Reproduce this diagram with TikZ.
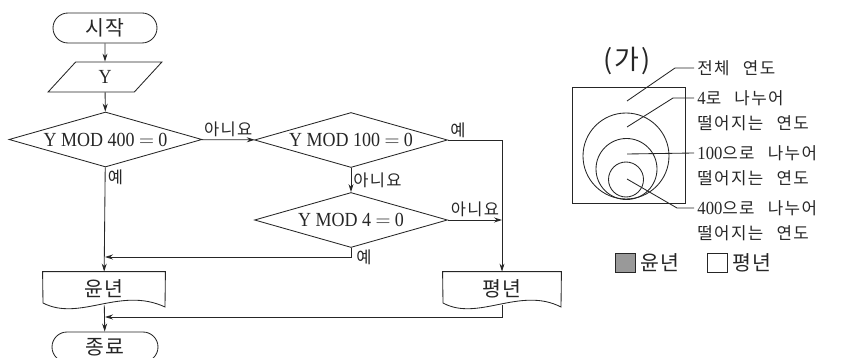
\documentclass[tikz,border=0pt]{standalone}
\usepackage{fontspec}
\setmainfont[FakeStretch=0.9]{Liberation Serif}
\newfontfamily\kr[LetterSpace=8,WordSpace=2.6]{Noto Sans CJK KR}
\usetikzlibrary{shapes.geometric,shapes.misc,arrows.meta,positioning}
\newcommand{\boxkr}{\kr\fontsize{20.5}{24}\selectfont}
\newcommand{\boxlat}{\fontsize{20}{24}\selectfont}
\newcommand{\lblkr}{\kr\fontsize{16.5}{19}\selectfont}
\newcommand{\notekr}{\kr\fontsize{16.8}{19}\selectfont}
\newcommand{\titlekr}{\kr\fontsize{27}{29}\selectfont}
\newcommand{\dg}[1]{{\rmfamily\fontsize{18.5}{20}\selectfont #1}}
\tikzstyle{termbox} = [draw, rounded rectangle, minimum width=104pt,
    minimum height=30pt, inner sep=0pt, font=\boxkr]
\tikzstyle{iobox} = [draw, trapezium, trapezium left angle=65,
    trapezium right angle=115, trapezium stretches=true,
    minimum width=114pt, minimum height=30pt, inner sep=0pt, font=\boxlat]
\tikzstyle{decbox} = [draw, diamond, aspect=3.5, inner sep=0pt,
    minimum width=193pt, minimum height=55pt, font=\boxlat]
\tikzstyle{docbox} = [minimum width=122pt, minimum height=33pt,
    inner sep=0pt, font=\boxkr]
\tikzstyle{lbl} = [font=\lblkr, inner sep=2pt]
\tikzstyle{note} = [font=\notekr, anchor=west, inner sep=3pt]
\tikzstyle{keybox} = [draw, minimum width=20pt, minimum height=19pt, inner sep=0pt]
\tikzstyle{arr} = [-{Stealth[length=8pt,width=5pt]}]

\begin{document}
\begin{tikzpicture}[x=1pt, y=-1pt, line width=0.85pt, color=black!85]
    \useasboundingbox (0,0) rectangle (848,358);
    \node [termbox] (start) at (105,28) {시작};
    \node [iobox] (input) at (105,77) {Y};
    \node [decbox] (d1) at (105.5,139.5) {Y MOD 400 $=$ 0};
    \node [decbox] (d2) at (351,140) {Y MOD 100 $=$ 0};
    \node [decbox] (d3) at (351,220) {Y MOD 4 $=$ 0};
    \node [docbox] (yun) at (104,288.5) {윤년};
    \node [docbox, minimum width=118pt] (pyeong) at (502,288.5) {평년};
    \node [termbox, minimum width=106pt] (end) at (105,347) {종료};
    \coordinate (j1) at (105,257);
    \coordinate (j2) at (105,317);
    \draw (yun.north west) -- (yun.north east) -- (165,307)
        .. controls (120,286) and (80,322) .. (43,303) -- cycle;
    \draw (pyeong.north west) -- (pyeong.north east) -- (561,307)
        .. controls (520,286) and (478,322) .. (443,303) -- cycle;

    \draw [arr] (start) -- (input);
    \draw [arr] (input) -- (d1);
    \draw [arr] (d1) -- node [lbl, above=1pt] {아니요} (d2);
    \draw [arr] (d2) -- node [lbl, right] {아니요} (d3);
    \draw [arr] (d2.east) -| (pyeong.north);
    \node [lbl, anchor=south west] at (d2.east) {예};
    \draw [arr] (d3.east) -- node [lbl, above=1pt] {아니요} (d3.east -| pyeong.north);
    \draw [arr] (d3.south) |- (j1);
    \node [lbl, anchor=north west, xshift=3pt] at (d3.south) {예};
    \draw [arr] (d1) -- (yun);
    \node [lbl, anchor=north west] at (d1.south) {예};
    \draw [arr] (yun) -- (end);
    \draw [arr] (pyeong.south) |- (j2);

    \node [font=\titlekr] (ga) at (627,61) {(\kern2pt 가\kern2pt)};
    \draw (572,87) rectangle (685,203);
    \draw (626,156) circle [radius=43];
    \draw (626.5,169) circle [radius=30.5];
    \draw (626,179.5) circle [radius=17.5];
    \node [note] (all) at (694,68) {전체 연도};
    \node [note] (div4) at (694,98) {\dg{4}로 나누어};
    \node [note] (div4b) at (694,123) {떨어지는 연도};
    \node [note] (div100) at (694,153) {\dg{100}으로 나누어};
    \node [note] (div100b) at (694,178) {떨어지는 연도};
    \node [note] (div400) at (694,208) {\dg{400}으로 나누어};
    \node [note] (div400b) at (694,233) {떨어지는 연도};
    \draw (627,101) -- (675,68) -- (all.west);
    \draw (627,127) -- (673,98) -- (div4.west);
    \draw (627,154) -- (div100.west);
    \draw (627,179) -- (677,208) -- (div400.west);

    \node [keybox, fill=black!40] (leapkey) at (625,263) {};
    \node [font=\boxkr, right=1pt of leapkey] (leaptxt) {윤년};
    \node [keybox, fill=white] (commkey) at (717,263) {};
    \node [font=\boxkr, right=1pt of commkey] (commtxt) {평년};
\end{tikzpicture}
\end{document}
